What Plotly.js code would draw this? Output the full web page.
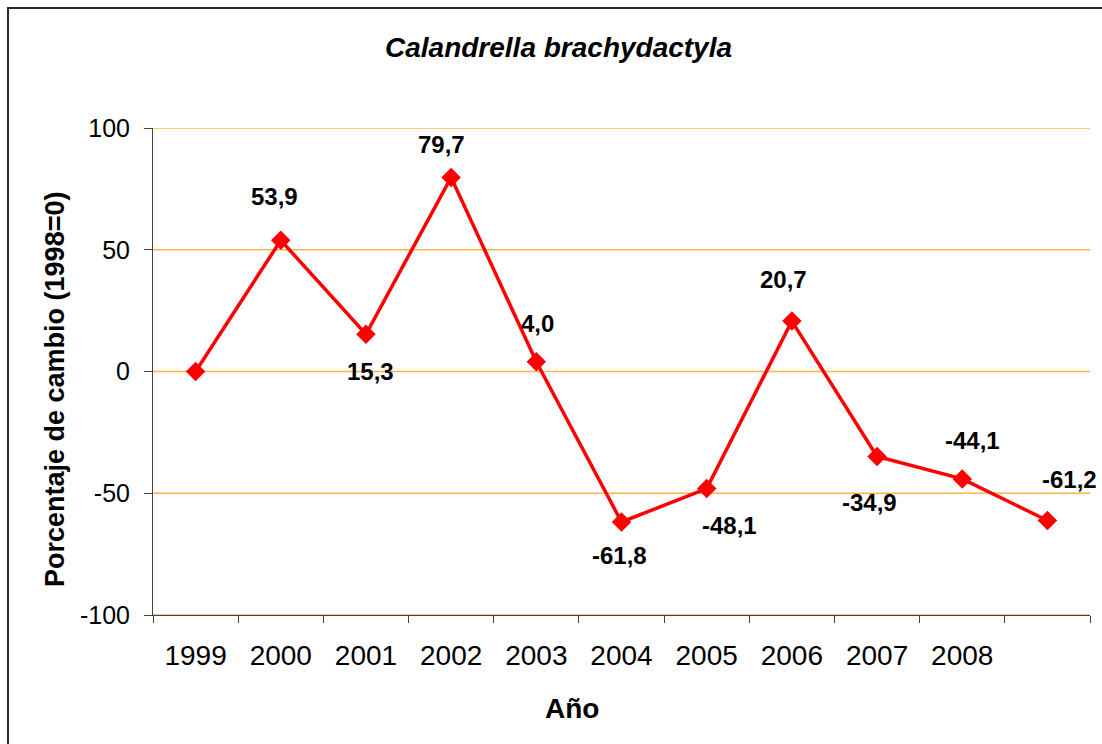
<!DOCTYPE html>
<html>
<head>
<meta charset="utf-8">
<script src="https://cdn.plot.ly/plotly-3.0.1.min.js"></script>
<style>
  html, body { margin: 0; padding: 0; background: #ffffff; }
  #chart { width: 1102px; height: 744px; }
</style>
</head>
<body>
<div id="chart"></div>
<script>
// ---- data ----
const categories = ["c1999", "c2000", "c2001", "c2002", "c2003", "c2004", "c2005", "c2006", "c2007", "c2008", "c2009"];
const tickLabels = ["1999", "2000", "2001", "2002", "2003", "2004", "2005", "2006", "2007", "2008", ""];
const values = [0, 53.9, 15.3, 79.7, 4.0, -61.8, -48.1, 20.7, -34.9, -44.1, -61.2];
const showLabel = [false, true, true, true, true, true, true, true, true, true, true];
const yTickVals = [-100, -50, 0, 50, 100];
const yTickText = ["-100", "-50", "0", "50", "100"];
const chartTitle = "Calandrella brachydactyla";
const xTitle = "Año";
const yTitle = "Porcentaje de cambio (1998=0)";
// label offsets (pixels) relative to each point
const labelDx = [0, -6, 5, -10, 1, -2, 23, -8, -8, 10, 22];
const labelDy = [0, -44, 37, -33, -38, 34, 37, -42, 46, -38, -41];

const FONT = 'Liberation Sans, Arial, sans-serif';
const fmt = v => v.toFixed(1).replace('.', ',');

// plot-area geometry (pixels)
const L = 153, R = 1090, T = 128, B = 615;
const px = x => (x - L) / (R - L);
const py = y => (B - y) / (B - T);

const annotations = [];
categories.forEach((c, i) => {
  if (!showLabel[i]) return;
  annotations.push({
    x: c, y: values[i], xref: 'x', yref: 'y',
    text: fmt(values[i]), showarrow: false,
    xshift: labelDx[i], yshift: -labelDy[i],
    font: { family: FONT, size: 24, color: '#000000', weight: 'bold' }
  });
});

annotations.push({
  xref: 'paper', yref: 'paper', x: px(558), y: py(47),
  text: chartTitle, showarrow: false, xanchor: 'center', yanchor: 'middle',
  font: { family: FONT, size: 28, color: '#000000', weight: 'bold', style: 'italic' }
});
annotations.push({
  xref: 'paper', yref: 'paper', x: px(572), y: py(708),
  text: xTitle, showarrow: false, xanchor: 'center', yanchor: 'middle',
  font: { family: FONT, size: 28, color: '#000000', weight: 'bold' }
});
annotations.push({
  xref: 'paper', yref: 'paper', x: px(55), y: py(390),
  text: yTitle, showarrow: false, xanchor: 'center', yanchor: 'middle', textangle: -90,
  font: { family: FONT, size: 27, color: '#000000', weight: 'bold' }
});

const gridShapes = yTickVals.map(v => ({
  type: 'line', xref: 'paper', yref: 'y', layer: 'below',
  x0: 0, x1: 1, y0: v, y1: v,
  line: { color: '#FFB347', width: 1.4 }
}));

const trace = {
  x: categories, y: values, type: 'scatter', mode: 'lines+markers',
  line: { color: '#FF0000', width: 3.5 },
  marker: { symbol: 'diamond', size: 15, color: '#FF0000' },
  hoverinfo: 'x+y', cliponaxis: false
};

const layout = {
  width: 1102, height: 744,
  margin: { l: L, r: 1102 - R, t: T, b: 744 - B },
  paper_bgcolor: '#ffffff', plot_bgcolor: '#ffffff',
  showlegend: false,
  font: { family: FONT, color: '#000000' },
  xaxis: {
    type: 'category', range: [-0.5, 10.5],
    tickmode: 'array', tickvals: categories, ticktext: tickLabels,
    tickson: 'boundaries', ticks: 'outside', ticklen: 7, tickcolor: '#444444', tickwidth: 1,
    showline: true, linecolor: '#444444', linewidth: 1,
    showgrid: false, zeroline: false,
    tickfont: { size: 28, color: '#000000' },
    ticklabelstandoff: 15
  },
  yaxis: {
    range: [-100, 100], tickmode: 'array', tickvals: yTickVals, ticktext: yTickText,
    ticks: 'outside', ticklen: 8, tickcolor: '#444444', tickwidth: 1,
    showline: true, linecolor: '#444444', linewidth: 1,
    showgrid: false, zeroline: false,
    tickfont: { size: 25, color: '#000000' },
    ticklabelstandoff: 9
  },
  annotations: annotations,
  shapes: gridShapes.concat([{
    type: 'rect', xref: 'paper', yref: 'paper', layer: 'below',
    x0: px(8), x1: px(1120), y0: py(760), y1: py(8),
    line: { color: '#2a2a2a', width: 2 }, fillcolor: 'rgba(0,0,0,0)'
  }])
};

Plotly.newPlot('chart', [trace], layout, { displayModeBar: false, staticPlot: true });
</script>
</body>
</html>
